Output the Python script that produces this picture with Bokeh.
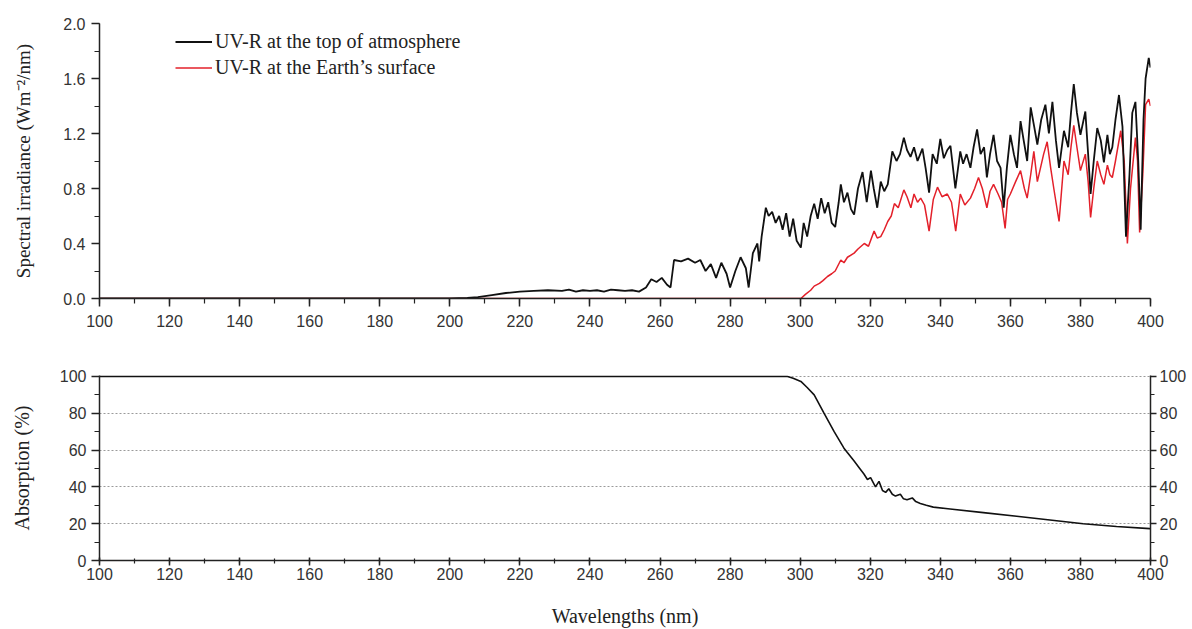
from bokeh.plotting import figure
from bokeh.layouts import column
from bokeh.models import Range1d, SingleIntervalTicker, PrintfTickFormatter, LinearAxis, Legend, LegendItem
from bokeh.embed import file_html
from bokeh.resources import INLINE

# ---------------- data ----------------
wl_toa = [100, 150, 200, 205, 208, 212, 216, 220, 224, 228, 232, 234, 236, 238, 240, 242, 244, 246, 248, 250,
          252, 254, 256, 257.5, 259, 260.5, 262, 263, 264, 266, 268, 270, 271.5, 273, 274.5, 276, 277.5, 279,
          280, 281.5, 283, 284.5, 285.3, 286.5, 287.8, 288.3, 289, 290.2, 291, 292, 293, 294, 295, 296, 297,
          298, 299, 300.2, 301, 302, 303, 304, 305, 306, 307, 308, 309, 310, 311, 311.6, 312.5, 313.5, 314.5,
          315.4, 316.5, 317.8, 319, 320.2, 321, 322, 323, 324, 325, 326.3, 327.5, 328.5, 329.6, 330.5, 331.5,
          332.5, 333.5, 334.9, 335.8, 336.8, 337.8, 339, 340, 341, 342, 342.9, 344.3, 345.7, 346.5, 347.5,
          348.6, 349.5, 350.5, 351.5, 352.5, 353.3, 354.2, 355.2, 356.2, 357.2, 358.1, 359, 360, 361, 361.9,
          362.9, 363.8, 364.8, 365.8, 366.8, 367.7, 368.8, 370, 371, 372, 373, 373.9, 375.3, 376.5, 377.3,
          378.1, 379, 380, 381.4, 382.2, 382.9, 383.8, 384.8, 385.8, 386.7, 387.7, 388.4, 389.1, 390, 391,
          392, 393, 394, 394.8, 395.7, 396.5, 397.2, 398, 398.6, 399.5, 400]
irr_toa = [0, 0, 0, 0.005, 0.01, 0.025, 0.04, 0.05, 0.055, 0.06, 0.055, 0.065, 0.05, 0.06, 0.055, 0.06, 0.05,
           0.065, 0.06, 0.055, 0.06, 0.05, 0.08, 0.14, 0.12, 0.15, 0.1, 0.08, 0.28, 0.27, 0.29, 0.26, 0.28,
           0.2, 0.25, 0.15, 0.26, 0.18, 0.08, 0.2, 0.3, 0.22, 0.08, 0.33, 0.4, 0.27, 0.45, 0.66, 0.6, 0.63,
           0.55, 0.6, 0.5, 0.62, 0.45, 0.58, 0.42, 0.37, 0.55, 0.45, 0.6, 0.69, 0.58, 0.73, 0.62, 0.7, 0.55,
           0.52, 0.7, 0.83, 0.7, 0.77, 0.65, 0.61, 0.8, 0.92, 0.7, 0.93, 0.8, 0.66, 0.85, 0.78, 0.83, 1.07,
           1.0, 1.05, 1.17, 1.08, 1.03, 1.1, 1.0, 1.09, 0.95, 0.77, 1.05, 0.98, 1.16, 1.02, 1.08, 1.11, 0.8,
           1.07, 0.98, 1.05, 0.95, 1.1, 1.23, 1.05, 1.1, 0.88, 1.05, 1.19, 1.0, 0.95, 0.66, 0.95, 1.19, 1.05,
           0.95, 1.29, 1.15, 1.0, 1.39, 1.25, 1.12, 1.3, 1.41, 1.2, 1.43, 1.15, 0.95, 1.22, 1.1, 1.35, 1.56,
           1.35, 1.19, 1.36, 1.05, 0.76, 1.0, 1.24, 1.15, 0.99, 1.19, 1.05, 1.1, 1.3, 1.48, 1.25, 0.45, 0.9,
           1.35, 1.43, 1.0, 0.5, 1.3, 1.6, 1.75, 1.68]

wl_surf = [100, 200, 297, 298.5, 300.2, 301.5, 303, 304, 305.5, 306.5, 307.8, 309, 310, 311.6, 312.5, 313.5,
           315.4, 316.5, 318.3, 319.5, 321.1, 322, 323, 324, 325, 326, 326.9, 328, 329.6, 330.5, 331.6, 332.5,
           333.5, 334.4, 335.5, 336.8, 338, 339.2, 340.5, 342, 343.2, 344.4, 345.7, 347, 348.6, 349.8, 350.9,
           352, 353.3, 354.2, 355.2, 356.5, 357.5, 358.5, 359.2, 360, 361.5, 362.9, 364, 364.8, 365.8, 366.7,
           367.7, 368.6, 369.5, 370.5, 371.5, 372.4, 373.9, 375.3, 376.5, 377.3, 378.1, 379, 380, 381.4, 382.2,
           382.9, 383.8, 384.8, 385.8, 386.7, 387.7, 388.4, 389.1, 390, 391.5, 392.5, 393.4, 394.3, 395.7,
           396.3, 396.9, 397.8, 398.6, 399.5, 400]
irr_surf = [0, 0, 0, 0, 0.0, 0.03, 0.06, 0.09, 0.11, 0.13, 0.16, 0.18, 0.2, 0.28, 0.26, 0.3, 0.33, 0.36, 0.40,
            0.38, 0.49, 0.44, 0.45, 0.5, 0.56, 0.6, 0.69, 0.66, 0.79, 0.74, 0.66, 0.76, 0.7, 0.73, 0.68, 0.49,
            0.72, 0.81, 0.74, 0.76, 0.7, 0.49, 0.76, 0.68, 0.73, 0.8, 0.88, 0.8, 0.66, 0.78, 0.83, 0.76, 0.7,
            0.51, 0.72, 0.76, 0.85, 0.93, 0.8, 0.73, 0.9, 1.07, 0.85, 0.95, 1.05, 1.14, 0.95, 0.80, 0.56, 1.0,
            0.9, 1.1, 1.26, 1.1, 0.93, 1.05, 0.85, 0.59, 0.8, 1.0, 0.9, 0.83, 0.97, 0.9, 0.88, 1.0, 1.22, 1.0,
            0.40, 0.8, 1.17, 1.0, 0.48, 0.9, 1.41, 1.45, 1.40]

wl_abs = [100, 200, 290, 294, 296.4, 298, 300.2, 302, 304, 306.8, 309.7, 312.5, 315.4, 317, 318.2, 319.2,
          320.1, 321.5, 322.5, 323.5, 324.4, 325.3, 326.3, 327.2, 328.6, 329.5, 330.5, 332, 333, 334.3, 336,
          338, 342.8, 352.3, 361.8, 371.3, 380.8, 390.3, 399.8, 400]
abs_pct = [100, 100, 100, 100, 100, 99, 97.3, 94, 90, 80, 70, 61, 54, 50, 47, 44, 45, 40, 43, 38, 37, 39, 36,
           35, 36, 33.5, 33, 34, 32, 31, 30, 29, 28, 26, 24, 22, 20, 18.5, 17.3, 17.2]

legend_labels = ["UV-R at the top of atmosphere", "UV-R at the Earth\u2019s surface"]

SERIF = "Liberation Serif"
SANS = "Liberation Sans"
W = 1192


def style_axis(ax, tick_in=0, tick_out=7, minor_in=0, minor_out=4, standoff=5):
    ax.axis_line_color = "#222222"
    ax.axis_line_width = 1.5
    ax.major_tick_line_color = "#222222"
    ax.major_tick_line_width = 1.5
    ax.minor_tick_line_color = "#222222"
    ax.minor_tick_line_width = 1.2
    ax.major_tick_in = tick_in
    ax.major_tick_out = tick_out
    ax.minor_tick_in = minor_in
    ax.minor_tick_out = minor_out
    ax.major_label_text_font = SANS
    ax.major_label_text_font_size = "16px"
    ax.major_label_text_color = "#333333"
    ax.major_label_standoff = standoff
    ax.axis_label_text_font = SERIF
    ax.axis_label_text_font_size = "20px"
    ax.axis_label_text_font_style = "normal"
    ax.axis_label_text_color = "#222222"


# ---------------- top figure ----------------
p1 = figure(width=W, height=350, output_backend="svg", toolbar_location=None,
            x_range=Range1d(100, 400), y_range=Range1d(0, 2.0),
            min_border_left=99, min_border_right=42, min_border_top=23, min_border_bottom=52)
p1.outline_line_color = None
p1.xgrid.visible = False
p1.ygrid.visible = False
p1.xaxis.ticker = SingleIntervalTicker(interval=20, num_minor_ticks=2)
p1.yaxis.ticker = SingleIntervalTicker(interval=0.4, num_minor_ticks=2)
p1.yaxis.formatter = PrintfTickFormatter(format="%.1f")
p1.yaxis.axis_label = "Spectral irradiance (Wm\u207b\u00b2/nm)"
style_axis(p1.xaxis[0], tick_out=8, minor_out=5, standoff=8)
style_axis(p1.yaxis[0], tick_out=8, minor_out=5, standoff=6)
p1.yaxis.axis_label_text_font_size = "19px"
p1.yaxis.axis_label_standoff = 26

r_toa = p1.line(wl_toa, irr_toa, line_color="#111111", line_width=1.8)
r_surf = p1.line(wl_surf, irr_surf, line_color="#e3202a", line_width=1.5)
p1.renderers = [r_surf, r_toa]

legend = Legend(items=[LegendItem(label=legend_labels[0], renderers=[r_toa]),
                       LegendItem(label=legend_labels[1], renderers=[r_surf])],
                location=(76, 218))
legend.background_fill_alpha = 0
legend.border_line_color = None
legend.padding = 0
legend.margin = 0
legend.spacing = 1
legend.glyph_width = 37
legend.glyph_height = 25
legend.label_height = 25
legend.label_standoff = 3
legend.label_text_font = SERIF
legend.label_text_font_size = "20px"
legend.label_text_color = "#222222"
p1.add_layout(legend, "center")

# ---------------- bottom figure ----------------
p2 = figure(width=W, height=279, output_backend="svg", toolbar_location=None,
            x_range=Range1d(100, 400), y_range=Range1d(0, 100.5),
            min_border_left=99, min_border_right=42, min_border_top=25, min_border_bottom=69)
p2.outline_line_color = None
p2.xgrid.visible = False
p2.yaxis.ticker = SingleIntervalTicker(interval=20, num_minor_ticks=2)
p2.xaxis.ticker = SingleIntervalTicker(interval=20, num_minor_ticks=2)
p2.ygrid.ticker = SingleIntervalTicker(interval=20)
p2.ygrid.grid_line_color = "#9a9a9a"
p2.ygrid.grid_line_dash = "2 2"
p2.ygrid.grid_line_width = 1
p2.yaxis.axis_label = "Absorption (%)"
p2.xaxis.axis_label = "Wavelengths (nm)"
style_axis(p2.xaxis[0], tick_in=3, tick_out=5, minor_in=2, minor_out=3, standoff=2)
style_axis(p2.yaxis[0], tick_out=8, minor_out=5, standoff=5)
p2.yaxis.axis_label_standoff = 24
p2.xaxis.axis_label_standoff = 22

right = LinearAxis(ticker=SingleIntervalTicker(interval=20, num_minor_ticks=2))
style_axis(right, tick_out=6, minor_out=4, standoff=3)
p2.add_layout(right, "right")

p2.line(wl_abs, abs_pct, line_color="#111111", line_width=1.6)

layout = column(p1, p2, spacing=0)
open("out.html", "w").write(file_html(layout, INLINE))
